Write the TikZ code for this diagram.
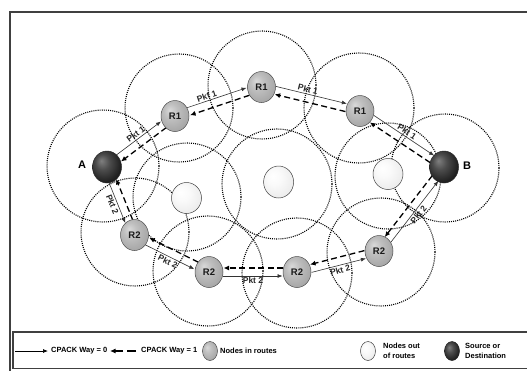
\documentclass[tikz,border=0pt]{standalone}
\usepackage{fontspec}
\setmainfont{Liberation Sans}
\usetikzlibrary{shapes.geometric,arrows.meta,calc,backgrounds}
\pgfdeclareradialshading{routesh}{\pgfpoint{-10bp}{10bp}}{color(0bp)=(gray!30); color(12bp)=(gray!50); color(28bp)=(gray!68); color(50bp)=(gray!82)}
\pgfdeclareradialshading{endsh}{\pgfpoint{-10bp}{10bp}}{color(0bp)=(black!50); color(12bp)=(black!70); color(28bp)=(black!88); color(50bp)=(black!95)}
\pgfdeclareradialshading{outsh}{\pgfpoint{-10bp}{10bp}}{color(0bp)=(white); color(12bp)=(gray!4); color(28bp)=(gray!14); color(50bp)=(gray!28)}
\begin{document}
\begin{tikzpicture}[x=1pt,y=-1pt,
  rnode/.style={ellipse, draw=black!70, line width=0.5pt, shading=routesh, minimum width=28pt, minimum height=31pt, inner sep=0pt, font=\bfseries\fontsize{9.5}{10}\selectfont, text=black!90},
  enode/.style={ellipse, draw=black!85, line width=0.5pt, shading=endsh, minimum width=29pt, minimum height=32pt, inner sep=0pt},
  onode/.style={ellipse, draw=black!75, line width=0.5pt, shading=outsh, minimum width=30pt, minimum height=31pt, inner sep=0pt},
  rangec/.style={draw=black, line width=1.1pt, dash pattern=on 1pt off 1.1pt},
  solidarr/.style={draw=black!80, line width=0.6pt, -{Latex[length=5pt,width=4pt]}, shorten <=14pt, shorten >=14.5pt},
  dasharr/.style={draw=black, line width=1.3pt, dash pattern=on 6pt off 3.5pt, -{Latex[length=5.5pt,width=5pt]}, shorten <=14pt, shorten >=14.5pt},
  pktlab/.style={font=\bfseries\fontsize{8.5}{8.5}\selectfont, text=black!85, sloped, inner sep=1.5pt},
  endlab/.style={font=\bfseries\fontsize{11}{11}\selectfont},
  legtext/.style={font=\bfseries\fontsize{7.5}{10.5}\selectfont, anchor=west, align=left, inner sep=0pt},
  frame/.style={draw=black!75, line width=1.2pt}
]
\useasboundingbox (0,0) rectangle (527,370);

% outer frame and legend box
\draw[frame] (10,375) -- (10,12) -- (535,12);
\draw[frame] (13,332) rectangle (535,368.5);

% nodes
\node[enode] (A) at (107,167) {};
\node[enode] (B) at (444,167) {};
\node[rnode] (R1a) at (175,116) {R1};
\node[rnode] (R1b) at (261.5,87) {R1};
\node[rnode] (R1c) at (360,111) {R1};
\node[rnode] (R2a) at (134.5,235) {R2};
\node[rnode] (R2b) at (209,272) {R2};
\node[rnode] (R2c) at (297,272) {R2};
\node[rnode] (R2d) at (379,251) {R2};
\node[onode] (L1) at (186.5,198) {};
\node[onode, minimum height=32pt] (L2) at (278.6,182) {};
\node[onode] (L3) at (388,174) {};
\node[endlab] (Alab) at (82,165) {A};
\node[endlab] (Blab) at (467,166) {B};

\begin{scope}[on background layer]
% range circles
\draw[rangec] (103,166) circle[radius=56pt];
\draw[rangec] (179,108) circle[radius=54pt];
\draw[rangec] (262,85) circle[radius=54pt];
\draw[rangec] (359,108) circle[radius=55pt];
\draw[rangec] (445,168) circle[radius=54pt];
\draw[rangec] (187,197) circle[radius=54pt];
\draw[rangec] (277,184) circle[radius=55pt];
\draw[rangec] (388,176) circle[radius=53pt];
\draw[rangec] (135,232) circle[radius=54pt];
\draw[rangec] (208,271) circle[radius=55pt];
\draw[rangec] (297,273) circle[radius=55pt];
\draw[rangec] (381,252) circle[radius=54pt];

% route 1 (upper)
\draw[solidarr] ($(A)!4pt!90:(R1a)$) -- node[pktlab, above]{Pkt 1} ($(R1a)!4pt!-90:(A)$);
\draw[solidarr] ($(R1a)!4pt!90:(R1b)$) -- node[pktlab, above, pos=0.4]{Pkt 1} ($(R1b)!4pt!-90:(R1a)$);
\draw[solidarr] ($(R1b)!4pt!90:(R1c)$) -- node[pktlab, above, pos=0.45]{Pkt 1} ($(R1c)!4pt!-90:(R1b)$);
\draw[solidarr] ($(R1c)!4pt!90:(B)$) -- node[pktlab, above]{Pkt 1} ($(B)!4pt!-90:(R1c)$);
\draw[dasharr] ($(R1a)!4pt!90:(A)$) -- ($(A)!4pt!-90:(R1a)$);
\draw[dasharr] ($(R1b)!4pt!90:(R1a)$) -- ($(R1a)!4pt!-90:(R1b)$);
\draw[dasharr] ($(R1c)!4pt!90:(R1b)$) -- ($(R1b)!4pt!-90:(R1c)$);
\draw[dasharr] ($(B)!4pt!90:(R1c)$) -- ($(R1c)!4pt!-90:(B)$);

% route 2 (lower)
\draw[solidarr] ($(A)!4pt!-90:(R2a)$) -- node[pktlab, below]{Pkt 2} ($(R2a)!4pt!90:(A)$);
\draw[solidarr] ($(R2a)!4pt!-90:(R2b)$) -- node[pktlab, below]{Pkt 2} ($(R2b)!4pt!90:(R2a)$);
\draw[solidarr] ($(R2b)!4pt!-90:(R2c)$) -- node[pktlab, below]{Pkt 2} ($(R2c)!4pt!90:(R2b)$);
\draw[solidarr] ($(R2c)!4pt!-90:(R2d)$) -- node[pktlab, below]{Pkt 2} ($(R2d)!4pt!90:(R2c)$);
\draw[solidarr] ($(R2d)!4pt!-90:(B)$) -- node[pktlab, below]{Pkt 2} ($(B)!4pt!90:(R2d)$);
\draw[dasharr] ($(R2a)!4pt!-90:(A)$) -- ($(A)!4pt!90:(R2a)$);
\draw[dasharr] ($(R2b)!4pt!-90:(R2a)$) -- ($(R2a)!4pt!90:(R2b)$);
\draw[dasharr] ($(R2c)!4pt!-90:(R2b)$) -- ($(R2b)!4pt!90:(R2c)$);
\draw[dasharr] ($(R2d)!4pt!-90:(R2c)$) -- ($(R2c)!4pt!90:(R2d)$);
\draw[dasharr] ($(B)!4pt!-90:(R2d)$) -- ($(R2d)!4pt!90:(B)$);
\end{scope}

% legend
\coordinate (l1s) at (15,351);
\coordinate (l1e) at (48,351);
\draw[draw=black, line width=0.7pt, -{Latex[length=5pt,width=4pt]}] (l1s) -- (l1e);
\node[legtext] (t1) at (51,351) {CPACK Way = 0};
\coordinate (l2s) at (136,351);
\coordinate (l2e) at (110,351);
\draw[draw=black, line width=1.3pt, dash pattern=on 9pt off 4pt, -{Latex[length=5.5pt,width=5pt]}] (l2s) -- (l2e);
\node[legtext] (t2) at (141,351) {CPACK Way = 1};
\node[rnode, minimum width=15pt, minimum height=19pt] (g1) at (210,351) {};
\node[legtext] (t3) at (220,351) {Nodes in routes};
\node[onode, minimum width=15pt, minimum height=19pt] (g2) at (368,351) {};
\node[legtext] (t4) at (383,351) {Nodes out\\of routes};
\node[enode, minimum width=15pt, minimum height=19pt] (g3) at (452,351) {};
\node[legtext] (t5) at (465,351) {Source or\\Destination};
\end{tikzpicture}
\end{document}
